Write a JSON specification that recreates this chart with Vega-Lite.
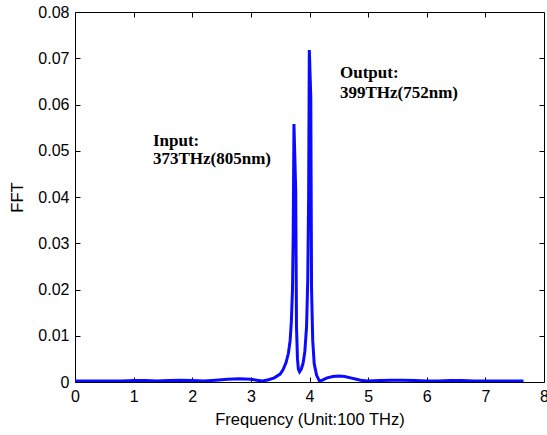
{
  "$schema": "https://vega.github.io/schema/vega-lite/v6.json",
  "width": 469,
  "height": 370,
  "autosize": {"type": "none"},
  "padding": {"left": 75, "top": 12, "right": 3, "bottom": 53},
  "background": "white",
  "config": {
    "view": {"stroke": "black", "strokeWidth": 1},
    "axis": {
      "domain": false,
      "grid": false,
      "tickColor": "black",
      "tickSize": -5,
      "labelFont": "Liberation Sans",
      "labelFontSize": 16,
      "labelColor": "black",
      "titleFont": "Liberation Sans",
      "titleFontSize": 16.5,
      "titleFontWeight": "normal",
      "titleColor": "black"
    }
  },
  "resolve": {"axis": {"x": "independent", "y": "independent"}},
  "datasets": {
    "curve": [
      {"f": 0, "v": 0.0002}, {"f": 0.2, "v": 0.0002}, {"f": 0.4, "v": 0.0002}, {"f": 0.6, "v": 0.0002},
      {"f": 0.8, "v": 0.0002}, {"f": 1.0, "v": 0.0003}, {"f": 1.2, "v": 0.0003}, {"f": 1.4, "v": 0.0002},
      {"f": 1.6, "v": 0.0003}, {"f": 1.8, "v": 0.0004}, {"f": 2.0, "v": 0.0003}, {"f": 2.2, "v": 0.0002},
      {"f": 2.4, "v": 0.0004}, {"f": 2.6, "v": 0.0006}, {"f": 2.8, "v": 0.0007}, {"f": 3.0, "v": 0.0006},
      {"f": 3.1, "v": 0.0004}, {"f": 3.2, "v": 0.0002}, {"f": 3.3, "v": 0.0005}, {"f": 3.4, "v": 0.0009},
      {"f": 3.5, "v": 0.0017}, {"f": 3.55, "v": 0.0027}, {"f": 3.6, "v": 0.0042}, {"f": 3.64, "v": 0.0062},
      {"f": 3.67, "v": 0.009}, {"f": 3.69, "v": 0.013}, {"f": 3.71, "v": 0.02}, {"f": 3.722, "v": 0.032},
      {"f": 3.735, "v": 0.0558}, {"f": 3.765, "v": 0.0413}, {"f": 3.778, "v": 0.012}, {"f": 3.795, "v": 0.005},
      {"f": 3.81, "v": 0.0028}, {"f": 3.83, "v": 0.0022}, {"f": 3.86, "v": 0.0028}, {"f": 3.89, "v": 0.004},
      {"f": 3.92, "v": 0.0065}, {"f": 3.95, "v": 0.012}, {"f": 3.97, "v": 0.022}, {"f": 3.985, "v": 0.04},
      {"f": 3.997, "v": 0.0718}, {"f": 4.022, "v": 0.0615}, {"f": 4.035, "v": 0.02}, {"f": 4.055, "v": 0.009},
      {"f": 4.08, "v": 0.004}, {"f": 4.12, "v": 0.0015}, {"f": 4.17, "v": 0.0002}, {"f": 4.22, "v": 0.0004},
      {"f": 4.3, "v": 0.0009}, {"f": 4.4, "v": 0.0012}, {"f": 4.5, "v": 0.0013}, {"f": 4.6, "v": 0.0012},
      {"f": 4.7, "v": 0.0009}, {"f": 4.8, "v": 0.0006}, {"f": 4.9, "v": 0.0003}, {"f": 5.0, "v": 0.0002},
      {"f": 5.2, "v": 0.0003}, {"f": 5.4, "v": 0.0004}, {"f": 5.6, "v": 0.0004}, {"f": 5.8, "v": 0.0003},
      {"f": 6.0, "v": 0.0002}, {"f": 6.2, "v": 0.0002}, {"f": 6.4, "v": 0.0003}, {"f": 6.6, "v": 0.0003},
      {"f": 6.8, "v": 0.0002}, {"f": 7.0, "v": 0.0002}, {"f": 7.2, "v": 0.0002}, {"f": 7.4, "v": 0.0002},
      {"f": 7.65, "v": 0.0002}
    ],
    "labels": [
      {"f": 1.33, "v": 0.0521, "t": "Input:"},
      {"f": 1.33, "v": 0.0482, "t": "373THz(805nm)"},
      {"f": 4.52, "v": 0.0668, "t": "Output:"},
      {"f": 4.52, "v": 0.0625, "t": "399THz(752nm)"}
    ]
  },
  "layer": [
    {
      "data": {"name": "curve"},
      "mark": {"type": "line", "color": "#0a0aff", "strokeWidth": 3, "clip": true},
      "encoding": {
        "x": {
          "field": "f", "type": "quantitative",
          "scale": {"domain": [0, 8], "nice": false, "zero": false},
          "axis": {"orient": "bottom", "values": [0, 1, 2, 3, 4, 5, 6, 7, 8], "format": "d", "title": "Frequency (Unit:100 THz)", "labelPadding": 11, "titlePadding": 7, "labelFlush": false}
        },
        "y": {
          "field": "v", "type": "quantitative",
          "scale": {"domain": [0, 0.08], "nice": false},
          "axis": {"orient": "left", "values": [0, 0.01, 0.02, 0.03, 0.04, 0.05, 0.06, 0.07, 0.08], "labelExpr": "datum.value == 0 ? '0' : format(datum.value, '.2f')", "title": "FFT", "labelPadding": 11, "titlePadding": 12, "labelFlush": false}
        }
      }
    },
    {
      "data": {"name": "labels"},
      "mark": {"type": "text", "align": "left", "baseline": "middle", "font": "Liberation Serif", "fontWeight": "bold", "fontSize": 17, "color": "black"},
      "encoding": {
        "x": {"field": "f", "type": "quantitative", "axis": {"orient": "top", "values": [1, 2, 3, 4, 5, 6, 7], "labels": false, "title": null}},
        "y": {"field": "v", "type": "quantitative", "axis": {"orient": "right", "values": [0.01, 0.02, 0.03, 0.04, 0.05, 0.06, 0.07], "labels": false, "title": null}},
        "text": {"field": "t"}
      }
    }
  ]
}
